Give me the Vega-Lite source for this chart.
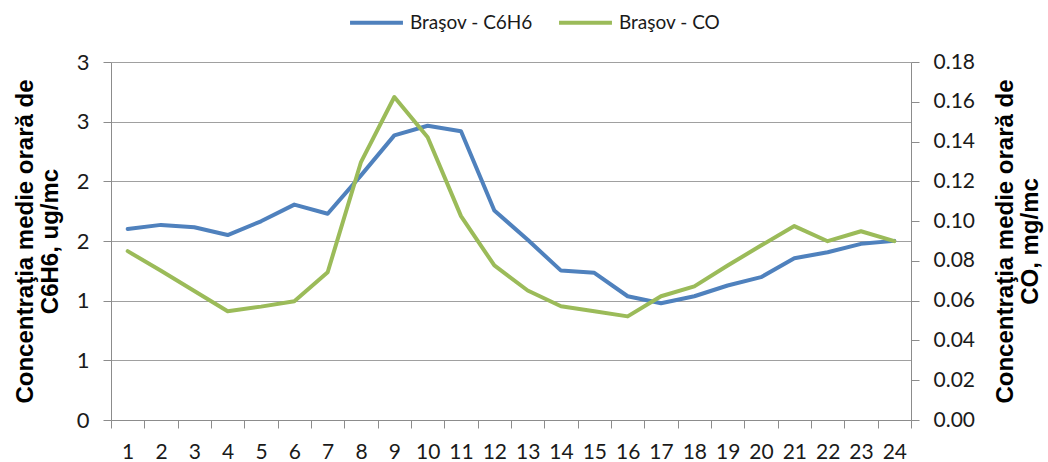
{
  "$schema": "https://vega.github.io/schema/vega-lite/v6.json",
  "autosize": "none",
  "width": 800,
  "height": 358,
  "padding": {"left": 111, "top": 62, "right": 137, "bottom": 42},
  "background": "white",
  "config": {
    "view": {"stroke": null},
    "axis": {"labelFont": "Lato", "labelFontSize": 21, "labelColor": "#1a1a1a", "titleFont": "Liberation Sans", "titleFontSize": 24, "titleFontWeight": "bold", "titleColor": "#000", "domainColor": "#8c8c8c", "tickColor": "#8c8c8c", "gridColor": "#a0a0a0", "titleLineHeight": 25}
  },
  "data": {
    "values": [
      {"hour": 1, "series": "Braşov - C6H6", "value": 1.60},
      {"hour": 2, "series": "Braşov - C6H6", "value": 1.635},
      {"hour": 3, "series": "Braşov - C6H6", "value": 1.615},
      {"hour": 4, "series": "Braşov - C6H6", "value": 1.55},
      {"hour": 5, "series": "Braşov - C6H6", "value": 1.665},
      {"hour": 6, "series": "Braşov - C6H6", "value": 1.805},
      {"hour": 7, "series": "Braşov - C6H6", "value": 1.728},
      {"hour": 8, "series": "Braşov - C6H6", "value": 2.05},
      {"hour": 9, "series": "Braşov - C6H6", "value": 2.385},
      {"hour": 10, "series": "Braşov - C6H6", "value": 2.466},
      {"hour": 11, "series": "Braşov - C6H6", "value": 2.42},
      {"hour": 12, "series": "Braşov - C6H6", "value": 1.756},
      {"hour": 13, "series": "Braşov - C6H6", "value": 1.51},
      {"hour": 14, "series": "Braşov - C6H6", "value": 1.252},
      {"hour": 15, "series": "Braşov - C6H6", "value": 1.233},
      {"hour": 16, "series": "Braşov - C6H6", "value": 1.037},
      {"hour": 17, "series": "Braşov - C6H6", "value": 0.978},
      {"hour": 18, "series": "Braşov - C6H6", "value": 1.037},
      {"hour": 19, "series": "Braşov - C6H6", "value": 1.127},
      {"hour": 20, "series": "Braşov - C6H6", "value": 1.197},
      {"hour": 21, "series": "Braşov - C6H6", "value": 1.356},
      {"hour": 22, "series": "Braşov - C6H6", "value": 1.406},
      {"hour": 23, "series": "Braşov - C6H6", "value": 1.476},
      {"hour": 24, "series": "Braşov - C6H6", "value": 1.501},
      {"hour": 1, "series": "Braşov - CO", "value": 0.0849},
      {"hour": 2, "series": "Braşov - CO", "value": 0.075},
      {"hour": 3, "series": "Braşov - CO", "value": 0.0649},
      {"hour": 4, "series": "Braşov - CO", "value": 0.0547},
      {"hour": 5, "series": "Braşov - CO", "value": 0.057},
      {"hour": 6, "series": "Braşov - CO", "value": 0.0597},
      {"hour": 7, "series": "Braşov - CO", "value": 0.0743},
      {"hour": 8, "series": "Braşov - CO", "value": 0.1297},
      {"hour": 9, "series": "Braşov - CO", "value": 0.1624},
      {"hour": 10, "series": "Braşov - CO", "value": 0.1422},
      {"hour": 11, "series": "Braşov - CO", "value": 0.1025},
      {"hour": 12, "series": "Braşov - CO", "value": 0.0777},
      {"hour": 13, "series": "Braşov - CO", "value": 0.0651},
      {"hour": 14, "series": "Braşov - CO", "value": 0.0572},
      {"hour": 15, "series": "Braşov - CO", "value": 0.0547},
      {"hour": 16, "series": "Braşov - CO", "value": 0.0521},
      {"hour": 17, "series": "Braşov - CO", "value": 0.0622},
      {"hour": 18, "series": "Braşov - CO", "value": 0.0672},
      {"hour": 19, "series": "Braşov - CO", "value": 0.0777},
      {"hour": 20, "series": "Braşov - CO", "value": 0.0877},
      {"hour": 21, "series": "Braşov - CO", "value": 0.0975},
      {"hour": 22, "series": "Braşov - CO", "value": 0.0899},
      {"hour": 23, "series": "Braşov - CO", "value": 0.0949},
      {"hour": 24, "series": "Braşov - CO", "value": 0.0899}
    ]
  },
  "encoding": {
    "x": {"field": "hour", "type": "quantitative", "scale": {"domain": [0.5, 24.5], "nice": false, "zero": false},
      "axis": {"orient": "bottom", "title": null, "values": [0.5,1.5,2.5,3.5,4.5,5.5,6.5,7.5,8.5,9.5,10.5,11.5,12.5,13.5,14.5,15.5,16.5,17.5,18.5,19.5,20.5,21.5,22.5,23.5,24.5], "labelExpr": "datum.value < 24 ? format(datum.value + 0.5, 'd') : ''", "labelOffset": 16.67, "ticks": true, "tickSize": 8, "labelPadding": 13, "grid": false, "domain": true, "labelFlush": false, "labelOverlap": false, "labelBound": false}},
    "color": {"field": "series", "type": "nominal",
      "scale": {"domain": ["Braşov - C6H6", "Braşov - CO"], "range": ["#4F81BD", "#9BBB59"]},
      "legend": {"title": null, "orient": "none", "direction": "horizontal", "legendX": 237, "legendY": -68, "symbolType": "stroke", "symbolSize": 2800, "symbolStrokeWidth": 4, "labelFont": "Lato", "labelFontSize": 19, "labelColor": "#1a1a1a", "labelOffset": 5, "columnPadding": 18}}
  },
  "layer": [
    {
      "transform": [{"filter": "datum.series === 'Braşov - C6H6'"}],
      "mark": {"type": "line", "strokeWidth": 4, "strokeJoin": "round", "strokeCap": "round"},
      "encoding": {
        "y": {"field": "value", "type": "quantitative", "scale": {"domain": [0, 3], "nice": false},
          "axis": {"orient": "left", "title": ["Concentraţia medie orară de", "C6H6, ug/mc"], "values": [0, 0.5, 1, 1.5, 2, 2.5, 3], "format": ".0f", "grid": true, "tickSize": 8, "labelPadding": 14, "titlePadding": 14, "labelFontSize": 22}}
      }
    },
    {
      "transform": [{"filter": "datum.series === 'Braşov - CO'"}],
      "mark": {"type": "line", "strokeWidth": 4, "strokeJoin": "round", "strokeCap": "round"},
      "encoding": {
        "y": {"field": "value", "type": "quantitative", "scale": {"domain": [0, 0.18], "nice": false},
          "axis": {"orient": "right", "title": ["Concentraţia medie orară de", "CO, mg/mc"], "titleAngle": -90, "values": [0, 0.02, 0.04, 0.06, 0.08, 0.1, 0.12, 0.14, 0.16, 0.18], "format": ".2f", "grid": false, "tickSize": 8, "labelPadding": 14, "titlePadding": 18}}
      }
    }
  ],
  "resolve": {"scale": {"y": "independent"}}
}
